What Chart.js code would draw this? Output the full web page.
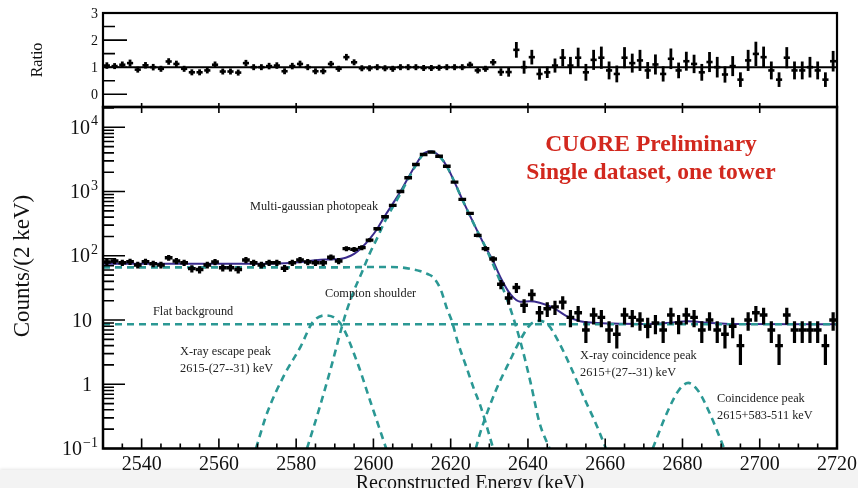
<!DOCTYPE html>
<html>
<head>
<meta charset="utf-8">
<script src="https://cdn.jsdelivr.net/npm/chart.js@4.4.0/dist/chart.umd.min.js"></script>
<style>
  html, body { margin: 0; padding: 0; background: #fff; }
  #wrap { position: relative; width: 858px; height: 488px; overflow: hidden; }
  #band { position: absolute; left: 0; top: 470px; width: 858px; height: 18px; background: #f3f3f3; box-shadow: 0 -1px 3px rgba(0,0,0,0.10); }
  canvas { position: absolute; left: 0; top: 0; }
</style>
</head>
<body>
<div id="wrap">
  <div id="band"></div>
  <canvas id="ratioCanvas" width="858" height="488"></canvas>
  <canvas id="specCanvas" width="858" height="488"></canvas>
</div>
<script>
// ---------- Measured spectrum, 2 keV bins ----------
const energy = [
  2531, 2533, 2535, 2537, 2539, 2541, 2543, 2545, 2547, 2549,
  2551, 2553, 2555, 2557, 2559, 2561, 2563, 2565, 2567, 2569,
  2571, 2573, 2575, 2577, 2579, 2581, 2583, 2585, 2587, 2589,
  2591, 2593, 2595, 2597, 2599, 2601, 2603, 2605, 2607, 2609,
  2611, 2613, 2615, 2617, 2619, 2621, 2623, 2625, 2627, 2629,
  2631, 2633, 2635, 2637, 2639, 2641, 2643, 2645, 2647, 2649,
  2651, 2653, 2655, 2657, 2659, 2661, 2663, 2665, 2667, 2669,
  2671, 2673, 2675, 2677, 2679, 2681, 2683, 2685, 2687, 2689,
  2691, 2693, 2695, 2697, 2699, 2701, 2703, 2705, 2707, 2709,
  2711, 2713, 2715, 2717, 2719
];
const counts = [
  80, 83, 78, 81, 72, 81, 75, 72, 93, 83,
  78, 63, 61, 72, 80, 65, 65, 61, 86, 78,
  72, 78, 78, 64, 78, 86, 80, 78, 78, 95,
  83, 129, 126, 134, 175, 264, 405, 608, 1000, 1640,
  2640, 3780, 4100, 3550, 2480, 1400, 754, 457, 208, 129,
  89, 36, 22, 32, 17, 25, 13, 15, 16, 19,
  11, 13, 7, 12, 11, 7, 6, 12, 11, 10,
  8, 9, 7, 12, 9, 12, 11, 7, 10, 7,
  6, 8, 4, 10, 13, 12, 7, 4, 12, 7,
  7, 7, 7, 4, 10
];
const countErr = [
  8.9, 9.1, 8.8, 9.0, 8.5, 9.0, 8.7, 8.5, 9.6, 9.1,
  8.8, 7.9, 7.8, 8.5, 8.9, 8.1, 8.1, 7.8, 9.3, 8.8,
  8.5, 8.8, 8.8, 8.0, 8.8, 9.3, 8.9, 8.8, 8.8, 9.7,
  9.1, 11.4, 11.2, 11.6, 13.2, 16.2, 20.1, 24.7, 31.6, 40.5,
  51.4, 61.5, 64.0, 59.6, 49.8, 37.4, 27.5, 21.4, 14.4, 11.4,
  9.4, 6.0, 4.7, 5.7, 4.1, 5.0, 3.6, 3.9, 4.0, 4.4,
  3.3, 3.6, 2.6, 3.5, 3.3, 2.6, 2.4, 3.5, 3.3, 3.2,
  2.8, 3.0, 2.6, 3.5, 3.0, 3.5, 3.3, 2.6, 3.2, 2.6,
  2.4, 2.8, 2.0, 3.2, 3.6, 3.5, 2.6, 2.0, 3.5, 2.6,
  2.6, 2.6, 2.6, 2.0, 3.2
];

// ---------- Data / fit ratio per bin ----------
const ratio = [
  1.06, 1.04, 1.09, 1.15, 0.91, 1.07, 1.00, 0.94, 1.21, 1.12,
  0.94, 0.81, 0.81, 0.88, 1.09, 0.84, 0.84, 0.80, 1.15, 1.00,
  1.00, 1.04, 1.06, 0.85, 1.04, 1.12, 1.00, 0.85, 0.85, 1.12,
  0.94, 1.37, 1.18, 0.96, 0.96, 1.00, 0.96, 0.94, 1.00, 1.00,
  1.00, 0.97, 0.97, 0.98, 1.00, 1.00, 1.00, 1.09, 0.88, 0.94,
  1.18, 0.82, 0.82, 1.64, 1.00, 1.37, 0.75, 0.81, 1.06, 1.35,
  1.06, 1.35, 0.81, 1.27, 1.35, 0.88, 0.75, 1.35, 1.15, 1.25,
  0.88, 1.10, 0.75, 1.31, 0.88, 1.22, 1.12, 0.81, 1.19, 1.00,
  0.73, 1.04, 0.54, 1.25, 1.49, 1.37, 0.88, 0.54, 1.35, 0.88,
  0.88, 1.00, 0.88, 0.54, 1.22
];
const ratioErr = [
  0.12, 0.11, 0.12, 0.13, 0.11, 0.12, 0.12, 0.11, 0.12, 0.12,
  0.11, 0.10, 0.10, 0.10, 0.12, 0.10, 0.10, 0.10, 0.12, 0.11,
  0.11, 0.12, 0.12, 0.10, 0.12, 0.12, 0.11, 0.10, 0.10, 0.11,
  0.10, 0.12, 0.10, 0.08, 0.07, 0.06, 0.05, 0.04, 0.03, 0.025,
  0.02, 0.016, 0.016, 0.017, 0.02, 0.027, 0.036, 0.05, 0.06, 0.08,
  0.12, 0.14, 0.17, 0.29, 0.24, 0.27, 0.21, 0.21, 0.26, 0.32,
  0.32, 0.37, 0.31, 0.37, 0.41, 0.33, 0.31, 0.39, 0.35, 0.39,
  0.31, 0.37, 0.28, 0.38, 0.29, 0.35, 0.34, 0.31, 0.37, 0.38,
  0.30, 0.37, 0.27, 0.39, 0.45, 0.39, 0.33, 0.27, 0.39, 0.33,
  0.33, 0.38, 0.33, 0.27, 0.38
];

// ---------- Fit model: total and components ----------
const fitE = [2530, 2560, 2570, 2575, 2579, 2582, 2585, 2587.5, 2590, 2592, 2593, 2595, 2597, 2599,
  2601, 2603, 2605, 2607, 2609, 2611, 2613, 2615, 2617, 2619, 2621, 2623, 2625, 2627, 2629, 2631,
  2632.9, 2635.5, 2638, 2640.5, 2643, 2646.5, 2650, 2653.5, 2657, 2662, 2670, 2676, 2681.5, 2687, 2692, 2720];
const fitV = [75, 75, 75.3, 76, 78, 81, 85.5, 87.5, 88, 91, 94, 107, 135, 182,
  264, 420, 645, 1000, 1640, 2640, 3900, 4230, 3600, 2480, 1400, 754, 420, 236, 137, 82,
  46, 25, 19.3, 19.6, 18.6, 15.6, 11.5, 9.6, 9.1, 8.8, 8.7, 9.0, 9.6, 9.0, 8.7, 8.6];

const photopeakE = [2582.8, 2586, 2589, 2592, 2593, 2595, 2597, 2599, 2601, 2603, 2605, 2607, 2609,
  2611, 2613, 2615, 2617, 2619, 2621, 2623, 2625, 2627, 2629, 2631, 2632.9, 2635.5, 2638.1, 2640.7, 2643, 2645.6];
const photopeakV = [0.1, 0.42, 1.8, 8.5, 13.5, 29, 55, 107, 190, 346, 571, 926, 1566,
  2570, 3830, 4150, 3550, 2460, 1395, 750, 418, 235, 136, 73, 38.6, 14.7, 4.5, 1.05, 0.25, 0.1];

const shoulderE = [2530, 2560, 2590, 2602, 2607, 2610, 2612, 2614, 2615.5, 2617.4, 2619.1, 2620.2, 2622, 2624, 2626, 2627.7, 2630.3, 2631];
const shoulderV = [66, 66, 66, 67, 66, 62, 58, 52, 46, 30, 14.7, 10, 4.2, 1.9, 0.85, 0.46, 0.14, 0.1];

const flatE = [2530, 2720];
const flatV = [8.6, 8.6];

const escapeE = [2569.6, 2572.5, 2576.8, 2581.2, 2584.2, 2587.5, 2591.6, 2595.8, 2599.3, 2603.3];
const escapeV = [0.1, 0.36, 1.35, 3.9, 9.1, 11.8, 8.6, 2.2, 0.52, 0.1];

const xrayCoincE = [2626.5, 2627.7, 2631.5, 2635.5, 2638.1, 2640.7, 2643, 2645.3, 2647.6, 2651, 2654.5, 2657.5, 2660.2];
const xrayCoincV = [0.1, 0.18, 0.75, 2.45, 5.0, 8.6, 9.7, 8.3, 5.0, 1.9, 0.62, 0.25, 0.1];

const coincE = [2672.3, 2676, 2679, 2681.5, 2684, 2687, 2690.8];
const coincV = [0.1, 0.36, 0.8, 1.05, 0.8, 0.36, 0.1];

// ---------- Axis ticks ----------
const energyTicks = [2540, 2560, 2580, 2600, 2620, 2640, 2660, 2680, 2700, 2720];
const energyMinorStep = 5;
const countTicks = [0.1, 1, 10, 100, 1000, 10000];
const countTickText = [['10', '\u22121'], ['1', ''], ['10', ''], ['10', '2'], ['10', '3'], ['10', '4']];
const ratioTicks = [0, 1, 2, 3];
const ratioMinorTicks = [0.5, 1.5, 2.5];

const annotations = [
  { lines: ['Multi-gaussian photopeak'], x: 250, y: 210 },
  { lines: ['Compton shoulder'], x: 325, y: 297 },
  { lines: ['Flat background'], x: 153, y: 315 },
  { lines: ['X-ray escape peak', '2615-(27--31) keV'], x: 180, y: 355 },
  { lines: ['X-ray coincidence peak', '2615+(27--31) keV'], x: 580, y: 359 },
  { lines: ['Coincidence peak', '2615+583-511 keV'], x: 717, y: 402 }
];
const banner = ['CUORE Preliminary', 'Single dataset, one tower'];

const SERIF = '"Liberation Serif", "Times New Roman", serif';
const TEAL = '#2b9894';
const FIT = '#3a2b8c';

const toXY = (xs, ys) => xs.map((x, i) => ({ x: x, y: ys[i] }));

function component(xs, ys) {
  return {
    data: toXY(xs, ys), showLine: true, fill: false, pointRadius: 0,
    borderColor: TEAL, borderWidth: 2.6, borderDash: [7, 5],
    cubicInterpolationMode: 'monotone'
  };
}

// Error-bar crosses for the dataset selected in the plugin options
const errorBars = {
  id: 'errorBars',
  afterDatasetsDraw(chart, args, opts) {
    const ds = chart.data.datasets[opts.index];
    const xs = chart.scales.x, ys = chart.scales.y;
    const { left, right, top, bottom } = chart.chartArea;
    const ctx = chart.ctx;
    ctx.save();
    ctx.beginPath();
    ctx.rect(left, top, right - left, bottom - top);
    ctx.clip();
    ctx.strokeStyle = '#000';
    ctx.lineCap = 'butt';
    ds.data.forEach((p, i) => {
      const err = opts.errors[i];
      const px = xs.getPixelForValue(p.x);
      const py = ys.getPixelForValue(p.y);
      const lo = Math.max(p.y - err, ys.min);
      const yLo = ys.getPixelForValue(lo);
      const yHi = ys.getPixelForValue(p.y + err);
      ctx.lineWidth = opts.hWidth;
      ctx.beginPath();
      ctx.moveTo(xs.getPixelForValue(p.x - opts.halfWidth), py);
      ctx.lineTo(xs.getPixelForValue(p.x + opts.halfWidth), py);
      ctx.stroke();
      ctx.lineWidth = opts.vWidth;
      ctx.beginPath();
      ctx.moveTo(px, Math.max(yLo, py + opts.minHalf));
      ctx.lineTo(px, Math.min(yHi, py - opts.minHalf));
      ctx.stroke();
    });
    ctx.restore();
  }
};

// Frame, inward ticks and labels of the spectrum panel
const spectrumAxes = {
  id: 'spectrumAxes',
  afterDraw(chart) {
    const ctx = chart.ctx;
    const xs = chart.scales.x, ys = chart.scales.y;
    const { left, right, top, bottom } = chart.chartArea;
    ctx.save();
    ctx.strokeStyle = '#000';
    ctx.lineWidth = 2.5;
    ctx.strokeRect(left, top, right - left, bottom - top);

    ctx.lineWidth = 1.6;
    ctx.beginPath();
    for (let e = xs.min; e <= xs.max; e += energyMinorStep) {
      const px = xs.getPixelForValue(e);
      const major = energyTicks.includes(e);
      ctx.moveTo(px, bottom);
      ctx.lineTo(px, bottom - (major ? 10 : 5));
      if (major) { ctx.moveTo(px, top); ctx.lineTo(px, top + 6); }
    }
    countTicks.forEach(d => {
      const py = ys.getPixelForValue(d);
      ctx.moveTo(left, py); ctx.lineTo(left + 22, py);
      for (let m = 2; m <= 9; m++) {
        const v = m * d;
        if (v > ys.max) break;
        const pm = ys.getPixelForValue(v);
        ctx.moveTo(left, pm); ctx.lineTo(left + 11, pm);
      }
    });
    ctx.stroke();

    ctx.fillStyle = '#111';
    ctx.font = '20px ' + SERIF;
    ctx.textAlign = 'center';
    ctx.textBaseline = 'alphabetic';
    energyTicks.forEach(e => ctx.fillText(String(e), xs.getPixelForValue(e), 470));

    countTicks.forEach((d, i) => {
      const py = ys.getPixelForValue(d);
      const [base, exp] = countTickText[i];
      ctx.textAlign = 'left';
      ctx.font = '20px ' + SERIF;
      const wb = ctx.measureText(base).width;
      if (exp) {
        ctx.font = '14px ' + SERIF;
        const we = ctx.measureText(exp).width;
        const x0 = 98 - we - wb - 1;
        ctx.fillText(exp, x0 + wb + 1, py - 2);
        ctx.font = '20px ' + SERIF;
        ctx.fillText(base, x0, py + 6.6);
      } else {
        ctx.fillText(base, 92 - wb, py + 6.6);
      }
    });

    ctx.font = '20px ' + SERIF;
    ctx.textAlign = 'center';
    ctx.fillText('Reconstructed Energy (keV)', (left + right) / 2, 488.5);
    ctx.save();
    ctx.font = '23px ' + SERIF;
    ctx.translate(29, 266);
    ctx.rotate(-Math.PI / 2);
    ctx.fillText('Counts/(2 keV)', 0, 0);
    ctx.restore();

    ctx.fillStyle = '#222';
    ctx.textAlign = 'left';
    ctx.font = '12.3px ' + SERIF;
    annotations.forEach(a => a.lines.forEach((t, k) => ctx.fillText(t, a.x, a.y + k * 17)));

    ctx.fillStyle = '#d2281e';
    ctx.textAlign = 'center';
    ctx.font = 'bold 23.5px ' + SERIF;
    ctx.fillText(banner[0], 651, 150.5);
    ctx.fillText(banner[1], 651, 179);
    ctx.restore();
  }
};

// Frame, reference line, ticks and labels of the ratio panel
const ratioAxes = {
  id: 'ratioAxes',
  beforeDatasetsDraw(chart) {
    const ctx = chart.ctx;
    const ys = chart.scales.y;
    const { left, right } = chart.chartArea;
    const py = ys.getPixelForValue(1);
    ctx.save();
    ctx.strokeStyle = '#000';
    ctx.lineWidth = 2;
    ctx.beginPath(); ctx.moveTo(left, py); ctx.lineTo(right, py); ctx.stroke();
    ctx.restore();
  },
  afterDraw(chart) {
    const ctx = chart.ctx;
    const xs = chart.scales.x, ys = chart.scales.y;
    const { left, right, top, bottom } = chart.chartArea;
    ctx.save();
    ctx.strokeStyle = '#000';
    ctx.lineWidth = 2.2;
    ctx.strokeRect(left, top, right - left, bottom - top);
    ctx.lineWidth = 1.6;
    ctx.beginPath();
    ratioTicks.forEach(v => { const p = ys.getPixelForValue(v); ctx.moveTo(left, p); ctx.lineTo(left + 24, p); });
    ratioMinorTicks.forEach(v => { const p = ys.getPixelForValue(v); ctx.moveTo(left, p); ctx.lineTo(left + 12, p); });
    energyTicks.forEach(e => { const p = xs.getPixelForValue(e); ctx.moveTo(p, bottom); ctx.lineTo(p, bottom - 4); });
    ctx.stroke();

    ctx.fillStyle = '#111';
    ctx.font = '14px ' + SERIF;
    ctx.textAlign = 'right';
    ctx.textBaseline = 'alphabetic';
    ratioTicks.forEach(v => ctx.fillText(String(v), 98, ys.getPixelForValue(v) + 4.6));

    ctx.font = '16px ' + SERIF;
    ctx.textAlign = 'center';
    ctx.translate(41.5, (top + bottom) / 2);
    ctx.rotate(-Math.PI / 2);
    ctx.fillText('Ratio', 0, 0);
    ctx.restore();
  }
};

const common = {
  responsive: false,
  animation: false,
  events: [],
  plugins: { legend: { display: false }, tooltip: { enabled: false } }
};

new Chart(document.getElementById('specCanvas'), {
  type: 'scatter',
  data: {
    datasets: [
      { data: toXY(energy, counts), pointRadius: 0, showLine: false },
      component(photopeakE, photopeakV),
      component(shoulderE, shoulderV),
      component(flatE, flatV),
      component(escapeE, escapeV),
      component(xrayCoincE, xrayCoincV),
      component(coincE, coincV),
      { data: toXY(fitE, fitV), showLine: true, fill: false, pointRadius: 0,
        borderColor: FIT, borderWidth: 2, cubicInterpolationMode: 'monotone' }
    ]
  },
  options: Object.assign({}, common, {
    layout: { padding: { left: 103, right: 21, top: 107, bottom: 39.5 } },
    scales: {
      x: { type: 'linear', min: 2530, max: 2720, display: false },
      y: { type: 'logarithmic', min: 0.1, max: 20700, display: false }
    },
    plugins: Object.assign({}, common.plugins, {
      errorBars: { index: 0, errors: countErr, halfWidth: 1, hWidth: 3.4, vWidth: 3.2, minHalf: 0 }
    })
  }),
  plugins: [errorBars, spectrumAxes]
});

new Chart(document.getElementById('ratioCanvas'), {
  type: 'scatter',
  data: {
    datasets: [
      { data: toXY(energy, ratio), pointRadius: 0, showLine: false }
    ]
  },
  options: Object.assign({}, common, {
    layout: { padding: { left: 103, right: 21, top: 13, bottom: 381 } },
    scales: {
      x: { type: 'linear', min: 2530, max: 2720, display: false },
      y: { type: 'linear', min: -0.47, max: 3, display: false }
    },
    plugins: Object.assign({}, common.plugins, {
      errorBars: { index: 0, errors: ratioErr, halfWidth: 0.8, hWidth: 2.6, vWidth: 2.8, minHalf: 3 }
    })
  }),
  plugins: [errorBars, ratioAxes]
});
</script>
</body>
</html>
